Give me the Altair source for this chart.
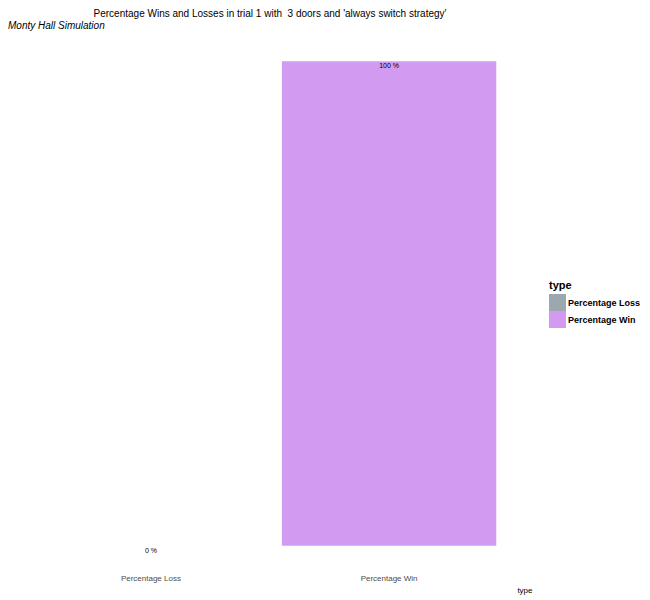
import altair as alt
import pandas as pd

types = ["Percentage Loss", "Percentage Win"]
values = [0, 100]
labels = ["0 %", "100 %"]
colors = ["#9BA8AF", "#D29AF0"]
title_text = "Percentage Wins and Losses in trial 1 with\u00a0 3 doors and 'always switch strategy'"
subtitle_text = "Monty Hall Simulation"

df = pd.DataFrame({"type": types, "value": values, "label": labels})

FONT = "Liberation Sans"
W, H = 524, 533

x_enc = alt.X("type:N", sort=types,
              scale=alt.Scale(paddingInner=0.1, paddingOuter=0.15),
              axis=alt.Axis(title="type", labelAngle=0, ticks=False, domain=False,
                            grid=False, labelFontSize=8, labelColor="#4D4D4D",
                            labelPadding=4, titleFontSize=8, titleFontWeight="normal",
                            titleColor="#000000", titleAnchor="end", titleAlign="right",
                            titleX=W, titleY=20, titleBaseline="middle", labelFont=FONT,
                            titleFont=FONT))
y_scale = alt.Scale(domain=[-5, 105], nice=False, zero=False)

bars = alt.Chart(df).mark_bar().encode(
    x=x_enc,
    y=alt.Y("value:Q", scale=y_scale, axis=None),
    y2=alt.datum(0),
    color=alt.Color("type:N", sort=types,
                    scale=alt.Scale(domain=types, range=colors),
                    legend=alt.Legend(title="type", orient="none", legendX=541, legendY=243,
                                      symbolType="square", symbolSize=289,
                                      symbolStrokeWidth=0, labelFontWeight="bold",
                                      labelFontSize=9, titleFontSize=11,
                                      titleFontWeight="bold", rowPadding=0,
                                      titlePadding=3, labelOffset=2,
                                      labelFont=FONT, titleFont=FONT,
                                      labelColor="#000000", titleColor="#000000")),
)

txt = alt.Chart(df).mark_text(fontSize=7, font=FONT, baseline="middle", dy=5,
                              color="#000000").encode(
    x=alt.X("type:N", sort=types),
    y=alt.Y("value:Q", scale=y_scale),
    text="label:N",
)

title = alt.Chart(pd.DataFrame({"t": [title_text]})).mark_text(
    fontSize=10, font=FONT, align="center", baseline="middle", color="#000000"
).encode(x=alt.value(W / 2), y=alt.value(-23), text="t:N")

subtitle = alt.Chart(pd.DataFrame({"t": [subtitle_text]})).mark_text(
    fontSize=10, font=FONT, fontStyle="italic", align="left", baseline="middle",
    color="#000000"
).encode(x=alt.value(0), y=alt.value(-11), text="t:N")

chart = alt.layer(bars, txt, title, subtitle).properties(
    width=W, height=H,
    autosize=alt.AutoSizeParams(type="none"),
    padding={"left": 0, "top": 29, "right": 110, "bottom": 30},
    background="#FFFFFF",
).configure_view(stroke=None, strokeWidth=0)

chart.save("out.html", embed_options={"renderer": "svg", "actions": False})
